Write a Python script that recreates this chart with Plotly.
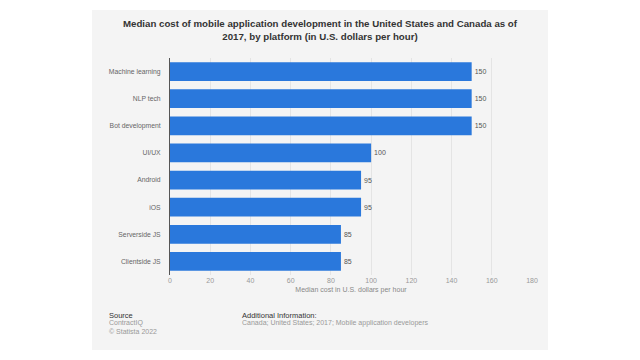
import plotly.graph_objects as go

categories = ["Machine learning", "NLP tech", "Bot development", "UI/UX",
              "Android", "iOS", "Serverside JS", "Clientside JS"]
values = [150, 150, 150, 100, 95, 95, 85, 85]
x_ticks = [0, 20, 40, 60, 80, 100, 120, 140, 160, 180]

FONT = "Liberation Sans, Arial, sans-serif"

L, R, T, B = 170, 108, 58, 85
W, H = 640, 360
pw, ph = W - L - R, H - T - B

def px(x):
    return (x - L) / pw

def py(y):
    return (H - B - y) / ph

fig = go.Figure()
fig.add_trace(go.Bar(
    x=values, y=categories, orientation="h",
    marker=dict(color="#2a78dc", line=dict(width=0)),
    text=[str(v) for v in values], textposition="outside",
    textfont=dict(size=7, color="#555555", family=FONT),
    cliponaxis=False,
))

fig.add_shape(type="rect", xref="paper", yref="paper",
              x0=px(92), x1=px(548), y0=py(350), y1=py(10),
              fillcolor="#f4f4f4", line=dict(width=0), layer="below")

fig.update_layout(
    width=W, height=H,
    margin=dict(l=L, r=R, t=T, b=B, autoexpand=False),
    paper_bgcolor="white", plot_bgcolor="rgba(0,0,0,0)",
    showlegend=False, bargap=0.31,
    font=dict(family=FONT),
    title=dict(
        text="<b>Median cost of mobile application development in the United States and Canada as of<br>2017, by platform (in U.S. dollars per hour)</b>",
        x=0.5, xanchor="center", xref="container", y=1 - 27 / H, yanchor="middle",
        font=dict(size=9.7, color="#333333", family=FONT),
    ),
    xaxis=dict(
        range=[0, 180], tickvals=x_ticks, showgrid=True, gridcolor="#e4e4e4",
        gridwidth=1, zeroline=False, tickfont=dict(size=7, color="#999999"),
        title=dict(text="Median cost in U.S. dollars per hour",
                   font=dict(size=7, color="#888888"), standoff=4),
        ticks="", fixedrange=True, automargin=False,
    ),
    yaxis=dict(
        autorange="reversed", showline=True, linecolor="#555555", linewidth=1,
        tickfont=dict(size=6.8, color="#666666"), ticks="", ticklabelstandoff=7,
        showgrid=False, automargin=False, fixedrange=True,
    ),
)

ann = [
    (107, 315, "Source", 7.5, "#333333"),
    (107, 323, "ContractIQ", 7, "#999999"),
    (107, 331, "© Statista 2022", 7, "#999999"),
    (240, 315, "Additional Information:", 7.5, "#333333"),
    (240, 323, "Canada; United States; 2017; Mobile application developers", 7, "#999999"),
]
for x, y, t, s, c in ann:
    fig.add_annotation(xref="paper", yref="paper", x=px(x), y=py(y),
                       xanchor="left", yanchor="middle", showarrow=False,
                       text=t, font=dict(size=s, color=c, family=FONT))

fig.write_html("out.html", config={"displayModeBar": False},
               post_script="document.body.style.margin='0';")
